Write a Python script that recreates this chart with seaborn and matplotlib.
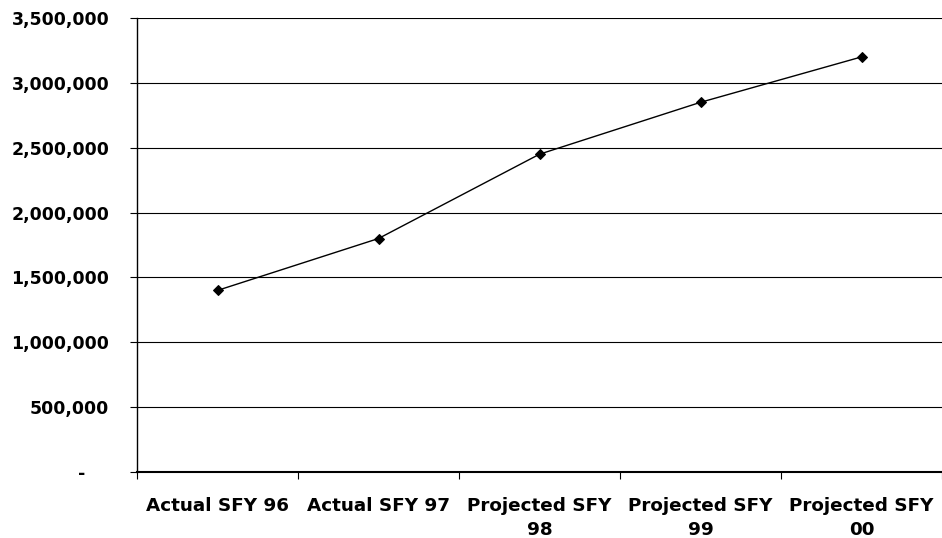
import matplotlib
matplotlib.use("Agg")
import matplotlib.pyplot as plt
import matplotlib.ticker as mticker
import seaborn as sns
import pandas as pd

# data
categories = ["Actual SFY 96", "Actual SFY 97", "Projected SFY\n98",
              "Projected SFY\n99", "Projected SFY\n00"]
values = [1400000, 1800000, 2450000, 2850000, 3200000]
y_ticks = [0, 500000, 1000000, 1500000, 2000000, 2500000, 3000000, 3500000]

df = pd.DataFrame({"category": categories, "value": values})
df["pos"] = range(len(categories))

sns.set_style("white")
plt.rcParams["font.family"] = ["DejaVu Sans"]
plt.rcParams["text.color"] = "black"
plt.rcParams["xtick.color"] = "black"
plt.rcParams["ytick.color"] = "black"

fig = plt.figure(figsize=(9.42, 5.38), dpi=100)
ax = fig.add_axes([137 / 942, 1 - 472 / 538, 1 - 137 / 942, (472 - 18) / 538])

sns.lineplot(data=df, x="pos", y="value", ax=ax, color="black", linewidth=1,
             marker="D", markersize=5, markeredgecolor="black")

ax.set_xlim(-0.5, len(categories) - 0.5)
ax.set_ylim(0, 3500000)
ax.set_yticks(y_ticks)
# accounting style: zero shown as an indented dash
ax.yaxis.set_major_formatter(mticker.FuncFormatter(
    lambda v, p: "-    " if v == 0 else f"{int(v):,}"))
ax.grid(axis="y", color="black", linewidth=0.8)
ax.set_axisbelow(True)

# category labels centred, tick marks on the boundaries
ax.set_xticks([i - 0.5 for i in range(len(categories) + 1)])
ax.set_xticklabels([])
ax.set_xticks(range(len(categories)), minor=True)
ax.set_xticklabels(categories, minor=True, fontsize=13.2, fontweight="bold",
                   linespacing=1.4)
ax.tick_params(axis="x", which="minor", length=0, pad=18, labelcolor="black")
ax.tick_params(axis="x", which="major", length=5, width=0.8, color="black",
               direction="out", bottom=True)
ax.tick_params(axis="y", length=5, width=0.8, color="black", left=True,
               labelsize=12.5, pad=15, labelcolor="black")
for lbl in ax.get_yticklabels():
    lbl.set_fontweight("bold")

for s in ["top", "right"]:
    ax.spines[s].set_visible(False)
ax.spines["left"].set_color("black")
ax.spines["left"].set_linewidth(1)
ax.spines["bottom"].set_color("black")
ax.spines["bottom"].set_linewidth(1.5)

ax.set_xlabel("")
ax.set_ylabel("")

fig.savefig("out.png", dpi=100)
